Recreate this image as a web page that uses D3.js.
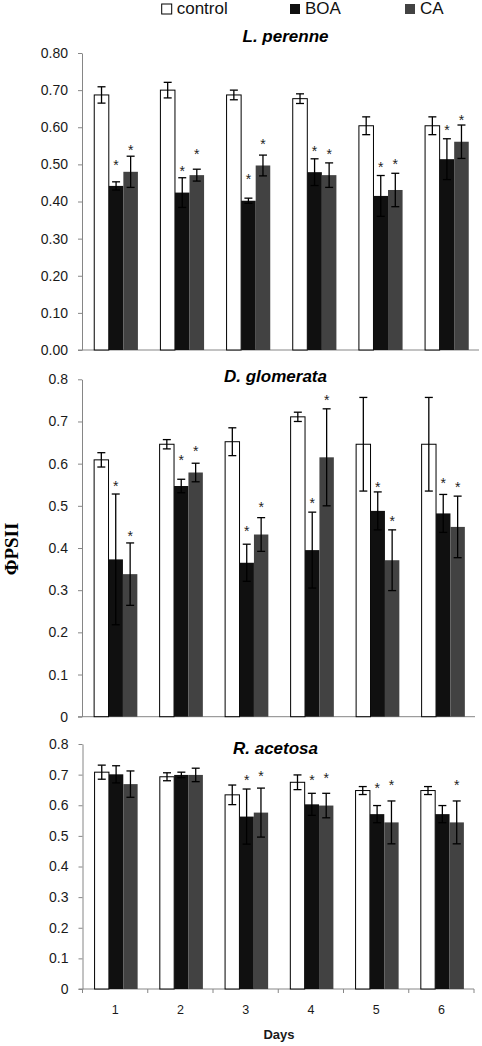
<!DOCTYPE html>
<html><head><meta charset="utf-8">
<script src="https://cdn.jsdelivr.net/npm/d3@7"></script>
<style>
html,body{margin:0;padding:0;background:#fff;}
svg{display:block;font-family:"Liberation Sans",Arial,sans-serif;}
</style></head>
<body>
<svg id="chart" width="482" height="1046"></svg>
<script>
const days = ["1","2","3","4","5","6"];
const series = ["control","BOA","CA"];

const perenneControl    = [0.687,0.700,0.687,0.677,0.604,0.604];
const perenneControlErr = [0.022,0.021,0.013,0.013,0.024,0.024];
const perenneBOA        = [0.442,0.424,0.402,0.479,0.415,0.514];
const perenneBOAErr     = [0.011,0.040,0.007,0.036,0.055,0.055];
const perenneCA         = [0.480,0.471,0.497,0.471,0.431,0.561];
const perenneCAErr      = [0.042,0.016,0.028,0.033,0.045,0.045];
const perenneStarBOA    = [0.507,0.489,0.469,0.545,0.501,0.600];
const perenneStarCA     = [0.548,0.537,0.563,0.536,0.510,0.627];

const glomerataControl    = [0.609,0.646,0.652,0.711,0.646,0.646];
const glomerataControlErr = [0.017,0.011,0.033,0.011,0.111,0.111];
const glomerataBOA        = [0.373,0.547,0.365,0.395,0.488,0.482];
const glomerataBOAErr     = [0.155,0.016,0.044,0.090,0.045,0.045];
const glomerataCA         = [0.338,0.579,0.432,0.615,0.371,0.450];
const glomerataCAErr      = [0.074,0.022,0.040,0.115,0.072,0.073];
const glomerataStarBOA    = [0.553,0.615,0.447,0.514,0.551,0.561];
const glomerataStarCA     = [0.435,0.636,0.504,0.759,0.470,0.551];

const acetosaControl    = [0.708,0.693,0.634,0.675,0.648,0.648];
const acetosaControlErr = [0.023,0.013,0.032,0.024,0.013,0.013];
const acetosaBOA        = [0.701,0.699,0.563,0.603,0.571,0.571];
const acetosaBOAErr     = [0.028,0.009,0.090,0.036,0.028,0.028];
const acetosaCA         = [0.669,0.699,0.576,0.599,0.544,0.544];
const acetosaCAErr      = [0.043,0.022,0.080,0.040,0.070,0.070];
const acetosaStarBOA    = [null,null,0.691,0.693,0.666,null];
const acetosaStarCA     = [null,null,0.704,0.699,0.677,0.677];

const yTicks = [0,0.1,0.2,0.3,0.4,0.5,0.6,0.7,0.8];
const speciesTitles = ["L. perenne","D. glomerata","R. acetosa"];
const xAxisTitle = "Days";
const yAxisTitle = "ΦPSII";

const colors = {control:"#ffffff", BOA:"#101010", CA:"#424242"};
const axisColor = "#868686";

const svg = d3.select("#chart");

function buildRows(ctrl, ctrlErr, boa, boaErr, ca, caErr, starBoa, starCa){
  const rows = [];
  days.forEach((d,i)=>{
    rows.push({day:d, s:"control", v:ctrl[i], e:ctrlErr[i], star:null});
    rows.push({day:d, s:"BOA", v:boa[i], e:boaErr[i], star:starBoa[i]});
    rows.push({day:d, s:"CA", v:ca[i], e:caErr[i], star:starCa[i]});
  });
  return rows;
}

const panels = [
  {title:speciesTitles[0], rows:buildRows(perenneControl,perenneControlErr,perenneBOA,perenneBOAErr,perenneCA,perenneCAErr,perenneStarBOA,perenneStarCA),
   y0:350, y1:53, xL:82, xR:479, fmt:d3.format(".2f"), tx:285.5, ty:41.7, bottom:false},
  {title:speciesTitles[1], rows:buildRows(glomerataControl,glomerataControlErr,glomerataBOA,glomerataBOAErr,glomerataCA,glomerataCAErr,glomerataStarBOA,glomerataStarCA),
   y0:716.7, y1:379.3, xL:82, xR:475, fmt:v=>v===0?"0":d3.format(".1f")(v), tx:275.5, ty:381.7, bottom:false},
  {title:speciesTitles[2], rows:buildRows(acetosaControl,acetosaControlErr,acetosaBOA,acetosaBOAErr,acetosaCA,acetosaCAErr,acetosaStarBOA,acetosaStarCA),
   y0:989, y1:744, xL:82.5, xR:474, fmt:v=>v===0?"0":d3.format(".1f")(v), tx:275.5, ty:754, bottom:true}
];

panels.forEach(p=>{
  const g = svg.append("g");
  const y = d3.scaleLinear().domain([0,0.8]).range([p.y0,p.y1]);
  const x = d3.scaleBand().domain(days).range([p.xL,p.xR]).padding(0);
  const bw = x.bandwidth();
  const xs = d3.scaleBand().domain(series).range([bw*0.185, bw*0.185 + 3*bw*0.22]).padding(0);

  // y axis
  const ya = g.append("g").attr("transform",`translate(${p.xL},0)`)
    .call(d3.axisLeft(y).tickValues(yTicks).tickFormat(p.fmt).tickSizeInner(4).tickSizeOuter(0).tickPadding(10));
  ya.select(".domain").attr("stroke",axisColor);
  ya.selectAll(".tick line").attr("stroke",axisColor);
  ya.selectAll(".tick text").attr("fill","#1a1a1a").style("font-size","14px").style("font-family","'Liberation Sans',Arial,sans-serif");

  // x axis line
  g.append("line").attr("x1",p.xL-4).attr("x2",p.xR).attr("y1",y(0)).attr("y2",y(0))
    .attr("stroke",axisColor).attr("stroke-width",1);

  // bars
  g.selectAll("rect.bar").data(p.rows).enter().append("rect")
    .attr("class","bar")
    .attr("x",d=>x(d.day)+xs(d.s))
    .attr("width",xs.bandwidth())
    .attr("y",d=>y(d.v))
    .attr("height",d=>y(0)-y(d.v))
    .attr("fill",d=>colors[d.s])
    .attr("stroke",d=>d.s==="control"?"#000":"none")
    .attr("stroke-width",1);

  // error bars
  const eb = g.selectAll("g.eb").data(p.rows).enter().append("g").attr("class","eb")
    .attr("transform",d=>`translate(${x(d.day)+xs(d.s)+xs.bandwidth()/2},0)`);
  eb.append("line").attr("x1",0).attr("x2",0).attr("y1",d=>y(d.v+d.e)).attr("y2",d=>y(d.v-d.e))
    .attr("stroke","#000").attr("stroke-width",1.3);
  eb.append("line").attr("x1",-4).attr("x2",4).attr("y1",d=>y(d.v+d.e)).attr("y2",d=>y(d.v+d.e))
    .attr("stroke","#000").attr("stroke-width",1.3);
  eb.append("line").attr("x1",-4).attr("x2",4).attr("y1",d=>y(d.v-d.e)).attr("y2",d=>y(d.v-d.e))
    .attr("stroke","#000").attr("stroke-width",1.3);

  // significance stars
  g.selectAll("text.star").data(p.rows.filter(d=>d.star!=null)).enter().append("text")
    .attr("class","star")
    .attr("x",d=>x(d.day)+xs(d.s)+xs.bandwidth()/2)
    .attr("y",d=>y(d.star)+8)
    .attr("text-anchor","middle")
    .style("font-size","14px").attr("fill","#222")
    .text("*");

  // title
  g.append("text").attr("x",p.tx).attr("y",p.ty).attr("text-anchor","middle")
    .style("font-size","17px").style("font-weight","bold").style("font-style","italic")
    .text(p.title);

  if(p.bottom){
    const bounds = days.map(d=>x(d)).concat([x.range()[1]]);
    g.selectAll("line.bt").data(bounds).enter().append("line").attr("class","bt")
      .attr("x1",d=>d).attr("x2",d=>d).attr("y1",y(0)).attr("y2",y(0)+4)
      .attr("stroke",axisColor);
    const xa = g.append("g").attr("transform",`translate(0,${y(0)})`)
      .call(d3.axisBottom(x).tickSize(0).tickPadding(16));
    xa.select(".domain").remove();
    xa.selectAll(".tick text").attr("fill","#1a1a1a").style("font-size","12.5px").style("font-family","'Liberation Sans',Arial,sans-serif");
    g.append("text").attr("x",279).attr("y",1039).attr("text-anchor","middle")
      .style("font-size","13px").style("font-weight","bold").attr("fill","#1a1a1a")
      .text(xAxisTitle);
  }
});

// y axis title
svg.append("text").attr("transform","translate(17.5,549) rotate(-90)")
  .attr("text-anchor","middle")
  .style("font-family","'Liberation Serif','Times New Roman',serif")
  .style("font-size","19px").style("font-weight","bold")
  .text(yAxisTitle);

// legend
const legendX = [161.7, 290, 405];
const lg = svg.append("g");
series.forEach((s,i)=>{
  lg.append("rect").attr("x",legendX[i]).attr("y",4).attr("width",10).attr("height",10)
    .attr("fill",colors[s]).attr("stroke",s==="control"?"#000":"none");
  lg.append("text").attr("x",legendX[i]+15).attr("y",14)
    .style("font-size","17px").attr("fill","#111").text(s);
});
</script>
</body></html>
